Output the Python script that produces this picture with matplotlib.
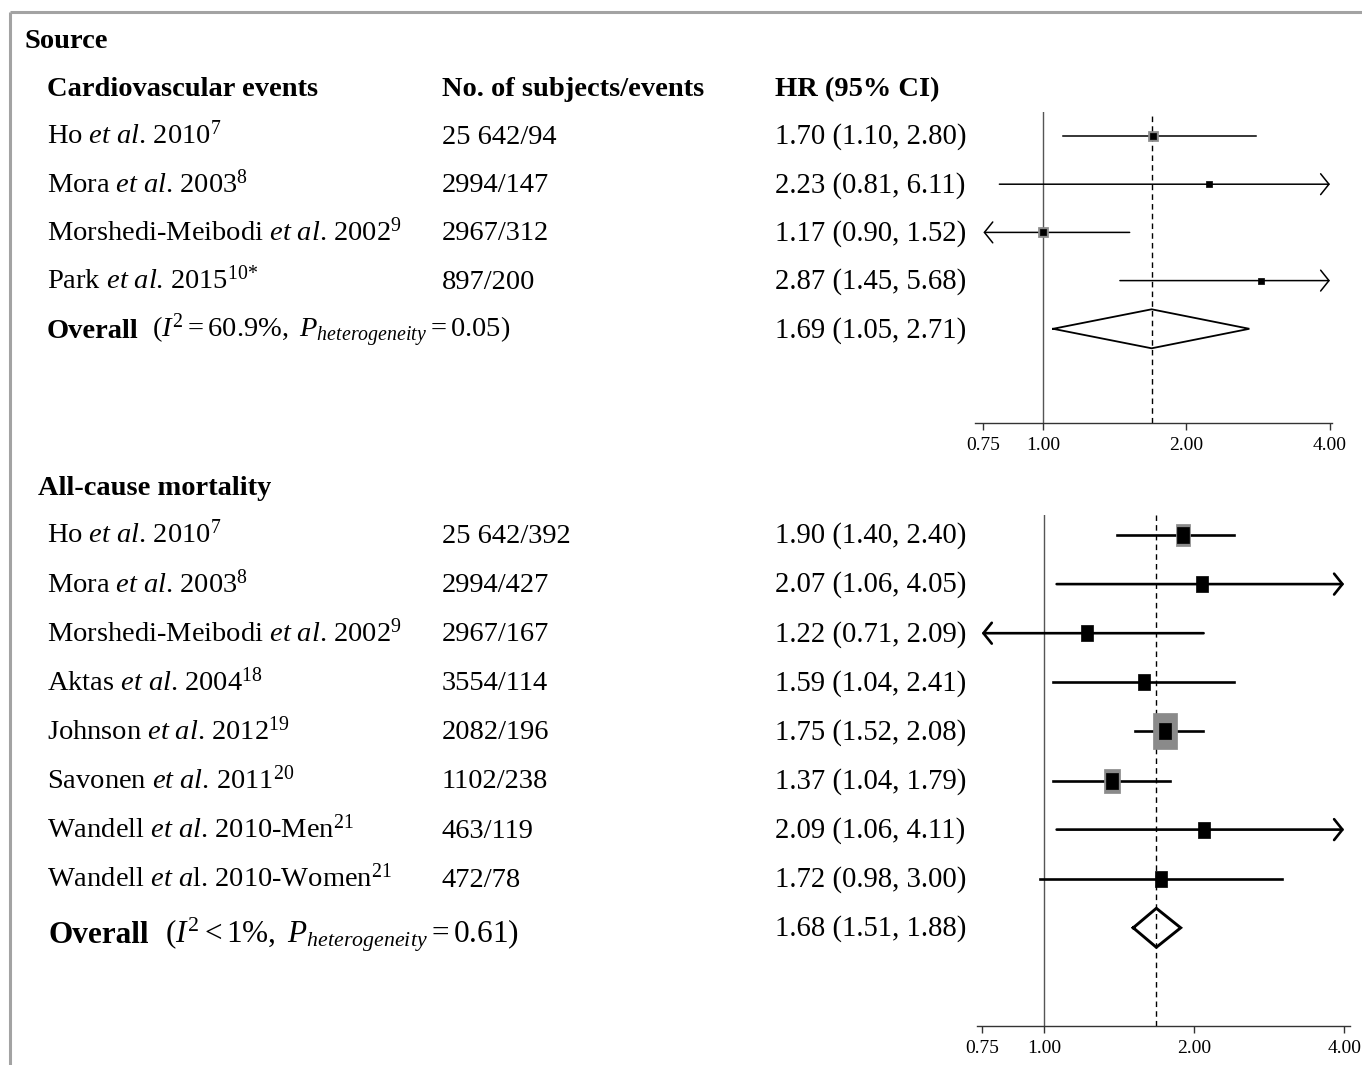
"""Forest plot: HR for cardiovascular events and all-cause mortality."""

import matplotlib

matplotlib.use("Agg")
import matplotlib.pyplot as plt  # noqa: E402
from matplotlib.ticker import NullLocator  # noqa: E402

plt.rcParams["font.family"] = ["Liberation Serif", "DejaVu Serif"]
plt.rcParams["mathtext.fontset"] = "custom"
plt.rcParams["mathtext.rm"] = "Liberation Serif"
plt.rcParams["mathtext.it"] = "Liberation Serif:italic"
plt.rcParams["mathtext.bf"] = "Liberation Serif:bold"

W, H = 1362, 1065

# --- cardiovascular events -------------------------------------------------
cv_studies = [
    r"Ho $\mathit{et\ al}$. 2010$^{7}$",
    r"Mora $\mathit{et\ al}$. 2003$^{8}$",
    r"Morshedi-Meibodi $\mathit{et\ al}$. 2002$^{9}$",
    r"Park $\mathit{et\ al}$. 2015$^{10{*}}$",
]
cv_counts = ["25 642/94", "2994/147", "2967/312", "897/200"]
cv_hr_text = [
    "1.70 (1.10, 2.80)",
    "2.23 (0.81, 6.11)",
    "1.17 (0.90, 1.52)",
    "2.87 (1.45, 5.68)",
]
# as drawn in the panel (Morshedi-Meibodi is drawn at 1.00 with an open lower end)
cv_est = [1.70, 2.23, 1.00, 2.87]
cv_lo = [1.10, 0.81, 0.70, 1.45]
cv_hi = [2.80, 6.11, 1.52, 5.68]
cv_weight = [30, 15, 30, 15]
cv_pooled, cv_pooled_lo, cv_pooled_hi = 1.69, 1.05, 2.71
cv_pooled_text = "1.69 (1.05, 2.71)"
cv_het = r"$(I^{2} = 60.9\%,\ P_{heterogeneity} = 0.05)$"

# --- all-cause mortality ---------------------------------------------------
ac_studies = [
    r"Ho $\mathit{et\ al}$. 2010$^{7}$",
    r"Mora $\mathit{et\ al}$. 2003$^{8}$",
    r"Morshedi-Meibodi $\mathit{et\ al}$. 2002$^{9}$",
    r"Aktas $\mathit{et\ al}$. 2004$^{18}$",
    r"Johnson $\mathit{et\ al}$. 2012$^{19}$",
    r"Savonen $\mathit{et\ al}$. 2011$^{20}$",
    r"Wandell $\mathit{et\ al}$. 2010-Men$^{21}$",
    r"Wandell $\mathit{et\ a}$l. 2010-Women$^{21}$",
]
ac_counts = ["25 642/392", "2994/427", "2967/167", "3554/114",
             "2082/196", "1102/238", "463/119", "472/78"]
ac_est = [1.90, 2.07, 1.22, 1.59, 1.75, 1.37, 2.09, 1.72]
ac_lo = [1.40, 1.06, 0.71, 1.04, 1.52, 1.04, 1.06, 0.98]
ac_hi = [2.40, 4.05, 2.09, 2.41, 2.08, 1.79, 4.11, 3.00]
ac_weight = [14, 6, 7, 7, 38, 16, 6, 6]
ac_pooled, ac_pooled_lo, ac_pooled_hi = 1.68, 1.51, 1.88
ac_het = r"$(I^{2}<1\%,\ P_{heterogeneity} = 0.61)$"

ticks = [0.75, 1.0, 2.0, 4.0]
tick_labels = ["0.75", "1.00", "2.00", "4.00"]


def fmt(e, lo, hi):
    return f"{e:.2f} ({lo:.2f}, {hi:.2f})"


def rect_marker(aspect):
    return [(-aspect, -1), (aspect, -1), (aspect, 1), (-aspect, 1), (-aspect, -1)]


def forest(fig, x0, x1, y0, y1, xlim, rows, est, lo, hi, weight, pooled, pooled_y,
           lw, black_px, box_k, aspect):
    ax = fig.add_axes([x0 / W, 1 - y1 / H, (x1 - x0) / W, (y1 - y0) / H])
    ax.set_xscale("log")
    ax.set_xlim(*xlim)
    ax.set_ylim(y1, y0)
    ax.patch.set_visible(False)
    for side in ("top", "left", "right"):
        ax.spines[side].set_visible(False)
    ax.spines["bottom"].set_color("#333333")
    ax.spines["bottom"].set_linewidth(1.0)
    ax.set_yticks([])
    ax.set_xticks(ticks)
    ax.set_xticklabels(tick_labels)
    ax.xaxis.set_minor_locator(NullLocator())
    ax.tick_params(axis="x", direction="out", length=5, width=1.0, color="#333333",
                   pad=5, labelsize=14)

    ax.axvline(1.0, color="#555555", lw=1.0, zorder=1)
    ax.axvline(pooled[0], color="black", lw=1.0, ls=(0, (4, 3)), zorder=1)

    left, right = ticks[0], ticks[-1]
    head = "->,head_length=0.6,head_width=0.75"
    marker = rect_marker(aspect)
    for y, e, l, h, w in zip(rows, est, lo, hi, weight):
        if h > right:
            ax.annotate("", xy=(right, y), xytext=(l, y),
                        arrowprops=dict(arrowstyle=head, lw=lw, color="black",
                                        shrinkA=0, shrinkB=0, mutation_scale=10))
        elif l < left:
            ax.annotate("", xy=(left, y), xytext=(h, y),
                        arrowprops=dict(arrowstyle=head, lw=lw, color="black",
                                        shrinkA=0, shrinkB=0, mutation_scale=10))
        else:
            ax.plot([l, h], [y, y], color="black", lw=lw, zorder=2)
        gray_px = box_k * w ** 0.5
        if gray_px > black_px:
            ax.plot([e], [y], marker=marker, ms=gray_px / 1.389, mfc="#8a8a8a",
                    mec="#8a8a8a", mew=0.5, zorder=3)
        ax.plot([e], [y], marker=marker, ms=black_px / 1.389, mfc="black",
                mec="black", mew=0.5, zorder=4)

    p, plo, phi = pooled
    ax.plot([plo, p, phi, p, plo],
            [pooled_y, pooled_y - 19.5, pooled_y, pooled_y + 19.5, pooled_y],
            color="black", lw=lw + 0.2, zorder=3, solid_joinstyle="miter")
    return ax


fig = plt.figure(figsize=(W / 100, H / 100), dpi=100)
tx = fig.add_axes([0, 0, 1, 1])
tx.set_xlim(0, W)
tx.set_ylim(H, 0)
tx.axis("off")

# grey frame
tx.plot([10, W], [12, 12], color="#a3a3a3", lw=2.2, clip_on=False,
        solid_capstyle="butt")
tx.plot([10, 10], [12, H], color="#a3a3a3", lw=2.2, clip_on=False,
        solid_capstyle="butt")

FS = 20.5
HR_FS = 20.7
COL1, COL2, COL3 = 47, 442, 775
DY = 8  # text baseline below the CI line

tx.text(25, 48, "Source", fontsize=FS, weight="bold")
tx.text(COL1, 96, "Cardiovascular events", fontsize=FS, weight="bold")
tx.text(COL2, 96, "No. of subjects/events", fontsize=FS, weight="bold")
tx.text(COL3, 96, "HR (95% CI)", fontsize=FS, weight="bold")

cv_rows = [136 + 48.2 * i for i in range(len(cv_studies))]
cv_pool_y = 136 + 48.2 * len(cv_studies)
for y, name, n, hr in zip(cv_rows, cv_studies, cv_counts, cv_hr_text):
    tx.text(COL1, y + DY, name, fontsize=FS)
    tx.text(COL2, y + DY, n, fontsize=FS)
    tx.text(COL3, y + DY, hr, fontsize=HR_FS)
tx.text(COL1, cv_pool_y + 9, "Overall", fontsize=FS, weight="bold")
tx.text(152, cv_pool_y + 9, cv_het, fontsize=FS)
tx.text(COL3, cv_pool_y + 9, cv_pooled_text, fontsize=HR_FS)

forest(fig, 975, 1332, 112, 423, (0.720, 4.04), cv_rows, cv_est, cv_lo, cv_hi,
       cv_weight, (cv_pooled, cv_pooled_lo, cv_pooled_hi), cv_pool_y,
       lw=1.1, black_px=7, box_k=1.8, aspect=1.0)

tx.text(38, 495, "All-cause mortality", fontsize=FS, weight="bold")
ac_rows = [535 + 49.1 * i for i in range(len(ac_studies))]
ac_pool_y = 535 + 49.1 * len(ac_studies)
for y, name, n, e, lo, hi in zip(ac_rows, ac_studies, ac_counts, ac_est, ac_lo, ac_hi):
    tx.text(COL1, y + DY, name, fontsize=FS)
    tx.text(COL2, y + DY, n, fontsize=FS)
    tx.text(COL3, y + DY, fmt(e, lo, hi), fontsize=HR_FS)
tx.text(48, ac_pool_y + 15, "Overall", fontsize=22.5, weight="bold")
tx.text(165, ac_pool_y + 15, ac_het, fontsize=22.5)
tx.text(COL3, ac_pool_y + 8, fmt(ac_pooled, ac_pooled_lo, ac_pooled_hi), fontsize=HR_FS)

forest(fig, 977, 1350, 515, 1026, (0.7337, 4.11), ac_rows, ac_est, ac_lo, ac_hi,
       ac_weight, (ac_pooled, ac_pooled_lo, ac_pooled_hi), ac_pool_y,
       lw=1.9, black_px=17, box_k=6.0, aspect=0.65)

fig.savefig("out.png", dpi=100)
